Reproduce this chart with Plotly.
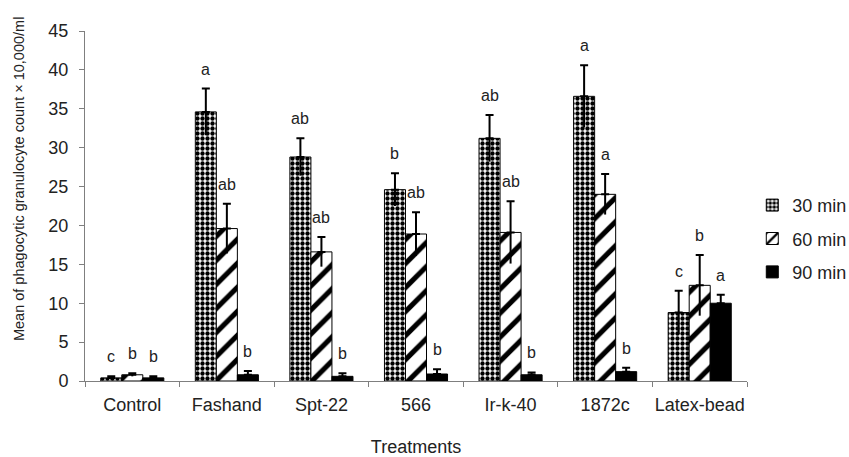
import plotly.graph_objects as go

categories = ["Control", "Fashand", "Spt-22", "566", "Ir-k-40", "1872c", "Latex-bead"]
series_names = ["30 min", "60 min", "90 min"]

vals_30 = [0.4, 34.6, 28.8, 24.6, 31.2, 36.6, 8.8]
vals_60 = [0.8, 19.6, 16.6, 18.9, 19.1, 24.0, 12.3]
vals_90 = [0.4, 0.8, 0.6, 0.9, 0.8, 1.2, 10.0]

err_30 = [0.2, 3.0, 2.4, 2.1, 3.0, 4.0, 2.8]
err_60 = [0.2, 3.2, 1.9, 2.8, 4.0, 2.6, 3.9]
err_90 = [0.2, 0.5, 0.4, 0.6, 0.3, 0.5, 1.1]

letters_30 = ["c", "a", "ab", "b", "ab", "a", "c"]
letters_60 = ["b", "ab", "ab", "ab", "ab", "a", "b"]
letters_90 = ["b", "b", "b", "b", "b", "b", "a"]

y_title = "Mean of phagocytic granulocyte count × 10,000/ml"
x_title = "Treatments"

values = [vals_30, vals_60, vals_90]
errors = [err_30, err_60, err_90]
letters = [letters_30, letters_60, letters_90]

FONT = "Liberation Sans, Arial, sans-serif"
BARGAP = 0.333

patterns = [
    dict(shape=".", fgcolor="black", bgcolor="white", fgopacity=1, size=5, solidity=0.6, fillmode="overlay"),
    dict(shape="/", fgcolor="black", bgcolor="white", fgopacity=1, size=17, solidity=0.3, fillmode="overlay"),
    dict(shape="", fgcolor="black", bgcolor="black"),
]
colors = ["white", "white", "black"]

fig = go.Figure()
for k in range(3):
    fig.add_trace(go.Bar(
        name=series_names[k], x=categories, y=values[k],
        offsetgroup=str(k), legendgroup=str(k),
        marker=dict(color=colors[k], pattern=patterns[k], line=dict(color="black", width=1)),
        error_y=dict(type="data", array=errors[k], arrayminus=[0] * len(categories),
                     color="black", thickness=2, width=4),
    ))
# lower half of the error bars, without caps
for k in range(3):
    fig.add_trace(go.Bar(
        x=categories, y=values[k], offsetgroup=str(k), showlegend=False,
        marker=dict(color="rgba(0,0,0,0)", line=dict(width=0)),
        error_y=dict(type="data", array=[0] * len(categories), arrayminus=errors[k],
                     color="black", thickness=2, width=0),
        hoverinfo="skip",
    ))

bw = (1 - BARGAP) / 3
for k in range(3):
    for i, cat in enumerate(categories):
        fig.add_annotation(
            x=i + (k - 1) * bw, y=values[k][i] + errors[k][i],
            xref="x", yref="y", text=letters[k][i], showarrow=False,
            yanchor="bottom", yshift=9,
            font=dict(family=FONT, size=16, color="#222"),
        )

# y-axis title (placed above centre, as in the reference)
fig.add_annotation(
    text=y_title, xref="paper", yref="paper", x=-0.0997, y=0.577,
    xanchor="center", yanchor="middle", textangle=-90, showarrow=False,
    font=dict(family=FONT, size=14.5, color="#222"),
)

axis_col = "#7f7f7f"
fig.update_layout(
    width=849, height=457,
    margin=dict(l=85, r=102, t=31, b=76, autoexpand=False),
    paper_bgcolor="white", plot_bgcolor="white",
    barmode="group", bargap=BARGAP, bargroupgap=0,
    font=dict(family=FONT, size=18, color="#222"),
    showlegend=True,
    legend=dict(x=1.008, y=0.406, xanchor="left", yanchor="middle", xref="paper",
                font=dict(family=FONT, size=18, color="#222"),
                itemwidth=30, tracegroupgap=7, bgcolor="rgba(0,0,0,0)"),
    xaxis=dict(
        title=dict(text=x_title, font=dict(family=FONT, size=18), standoff=28),
        showline=True, linecolor=axis_col, linewidth=1,
        ticks="outside", tickson="boundaries", ticklen=5, tickcolor=axis_col,
        tickfont=dict(family=FONT, size=18), tickangle=0, automargin=False,
        ticklabelstandoff=7,
        showgrid=False, range=[-0.5, 6.5],
    ),
    yaxis=dict(
        showline=True, linecolor=axis_col, linewidth=1,
        ticks="outside", ticklen=5, tickcolor=axis_col,
        tickfont=dict(family=FONT, size=18), automargin=False,
        ticklabelstandoff=7,
        range=[0, 45], dtick=5, tick0=0, showgrid=False, zeroline=False,
    ),
)

fig.write_html("out.html", config={"displayModeBar": False},
               post_script="document.body.style.margin='0';document.body.style.padding='0';")
